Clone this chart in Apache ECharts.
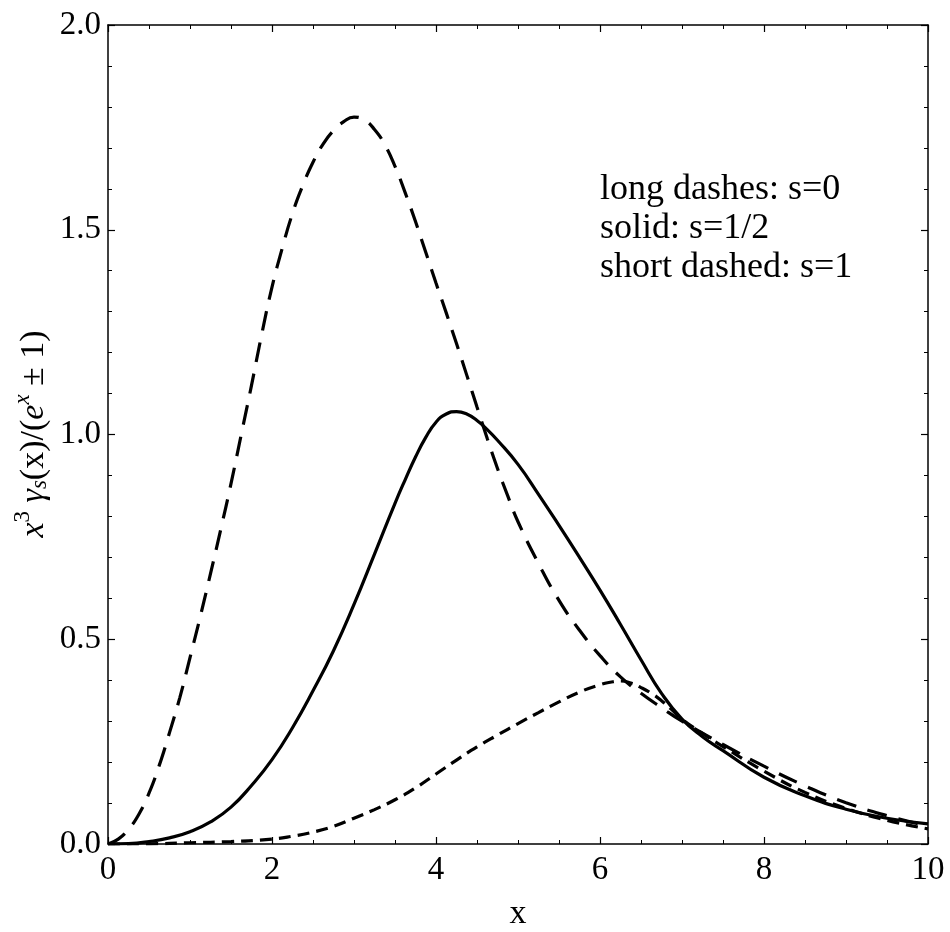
<!DOCTYPE html>
<html>
<head>
<meta charset="utf-8">
<script src="https://cdn.jsdelivr.net/npm/echarts@6/dist/echarts.min.js"></script>
<style>
html,body{margin:0;padding:0;background:#fff;}
#chart{width:950px;height:932px;}
</style>
</head>
<body>
<div id="chart"></div>
<script>
// long dashes: s=0
const s0X = [0,0.125,0.25,0.375,0.5,0.625,0.75,0.875,1,1.125,1.25,1.375,1.5,1.625,1.75,1.875,2,2.125,2.25,2.375,2.5,2.625,2.75,2.875,3,3.125,3.25,3.375,3.5,3.625,3.75,3.875,4,4.125,4.25,4.375,4.5,4.625,4.75,4.875,5,5.25,5.5,5.75,6,6.25,6.5,6.75,7,7.5,8,8.5,9,9.5,10];
const s0Y = [0,0.012,0.036,0.072,0.124,0.192,0.272,0.357,0.455,0.555,0.66,0.768,0.88,1.0,1.12,1.245,1.36,1.455,1.54,1.608,1.665,1.71,1.742,1.764,1.775,1.768,1.745,1.708,1.655,1.59,1.52,1.445,1.37,1.297,1.222,1.145,1.067,0.99,0.917,0.85,0.787,0.685,0.595,0.522,0.460,0.408,0.368,0.333,0.300,0.243,0.190,0.142,0.101,0.069,0.044];
// solid: s=1/2
const sHalfX = [0,0.25,0.5,0.75,1,1.25,1.5,1.75,2,2.25,2.5,2.75,3,3.25,3.5,3.625,3.75,3.875,4,4.125,4.25,4.375,4.5,4.625,4.75,5,5.25,5.5,5.75,6,6.25,6.5,6.75,7,7.25,7.5,8,8.5,9,9.5,10];
const sHalfY = [0,0.001,0.006,0.015,0.030,0.054,0.09,0.143,0.206,0.284,0.374,0.472,0.585,0.708,0.832,0.89,0.945,0.993,1.030,1.050,1.056,1.050,1.034,1.012,0.986,0.927,0.854,0.778,0.700,0.620,0.536,0.450,0.368,0.305,0.262,0.228,0.163,0.118,0.085,0.063,0.049];
// short dashed: s=1
const s1X = [0,0.5,1,1.5,2,2.25,2.5,2.75,3,3.25,3.5,3.75,4,4.25,4.5,4.75,5,5.25,5.5,5.75,6,6.125,6.25,6.375,6.5,6.625,6.75,6.875,7,7.25,7.5,8,8.5,9,9.5,10];
const s1Y = [0,0.0005,0.003,0.006,0.012,0.019,0.029,0.043,0.063,0.084,0.108,0.137,0.171,0.205,0.237,0.266,0.294,0.321,0.347,0.371,0.389,0.395,0.398,0.393,0.382,0.368,0.350,0.328,0.305,0.270,0.238,0.178,0.126,0.087,0.058,0.037];

const legendLines = ['long dashes: s=0','solid: s=1/2','short dashed: s=1'];
const xTitle = 'x';

const FONT = '"Liberation Serif","DejaVu Serif",serif';
const pairs = (xs, ys) => xs.map((x,i)=>[x, ys[i]]);

const chart = echarts.init(document.getElementById('chart'), null, {renderer:'canvas'});

function axis(type, extra, showLabel, split){
  return Object.assign({
    type:'value',
    axisLine:{show:true, onZero:false, lineStyle:{color:'#000', width:1.5}},
    axisTick:{show:true, inside:true, length:7, lineStyle:{color:'#000', width:1.2}},
    minorTick:{show:true, splitNumber:split, length:4, lineStyle:{color:'#000', width:1}},
    splitLine:{show:false},
    axisLabel:{show:showLabel, color:'#000', fontFamily:FONT, fontSize:33, margin:type==='x'?10:7,
      formatter: type==='x' ? (v => String(v)) : (v => v.toFixed(1))}
  }, extra);
}

const option = {
  backgroundColor:'#fff',
  animation:false,
  grid:{left:108, right:22, top:25, bottom:88, containLabel:false},
  xAxis:[
    axis('x', {min:0, max:10, interval:2, position:'bottom'}, true, 4),
    axis('x', {min:0, max:10, interval:2, position:'top'}, false, 4)
  ],
  yAxis:[
    axis('y', {min:0, max:2, interval:0.5, position:'left'}, true, 5),
    axis('y', {min:0, max:2, interval:0.5, position:'right'}, false, 5)
  ],
  series:[
    {name:'s=0', type:'line', data:pairs(s0X, s0Y), smooth:0.5, showSymbol:false,
      lineStyle:{color:'#000', width:3.2, type:[20,12], cap:'butt'}},
    {name:'s=1/2', type:'line', data:pairs(sHalfX, sHalfY), smooth:0.5, showSymbol:false,
      lineStyle:{color:'#000', width:3.2, type:'solid'}},
    {name:'s=1', type:'line', data:pairs(s1X, s1Y), smooth:0.5, showSymbol:false,
      lineStyle:{color:'#000', width:3.2, type:[12,7], cap:'butt'}}
  ],
  graphic:[
    {type:'text', left:600, top:170, style:{text:legendLines.join('\n'), fill:'#000', font:'36px '+FONT, lineHeight:39}},
    {type:'text', x:518, y:914, style:{text:xTitle, fill:'#000', font:'34px '+FONT, align:'center', verticalAlign:'middle'}},
    {type:'text', x:31, y:434, rotation:Math.PI/2,
      style:{
        text:'{i|x}{sup|3}{r| }{i|γ}{sub|s}{r|(x)/(}{i|e}{supi|x}{r| ± 1)}',
        align:'center', verticalAlign:'middle', fill:'#000',
        rich:{
          r:{fontFamily:FONT, fontSize:34, lineHeight:40, verticalAlign:'bottom'},
          i:{fontFamily:FONT, fontSize:34, fontStyle:'italic', lineHeight:40, verticalAlign:'bottom'},
          sup:{fontFamily:FONT, fontSize:23, lineHeight:23, verticalAlign:'top'},
          supi:{fontFamily:FONT, fontSize:23, fontStyle:'italic', lineHeight:23, verticalAlign:'top'},
          sub:{fontFamily:FONT, fontSize:23, fontStyle:'italic', lineHeight:23, verticalAlign:'bottom'}
        }
      }}
  ]
};
chart.setOption(option);
</script>
</body>
</html>
